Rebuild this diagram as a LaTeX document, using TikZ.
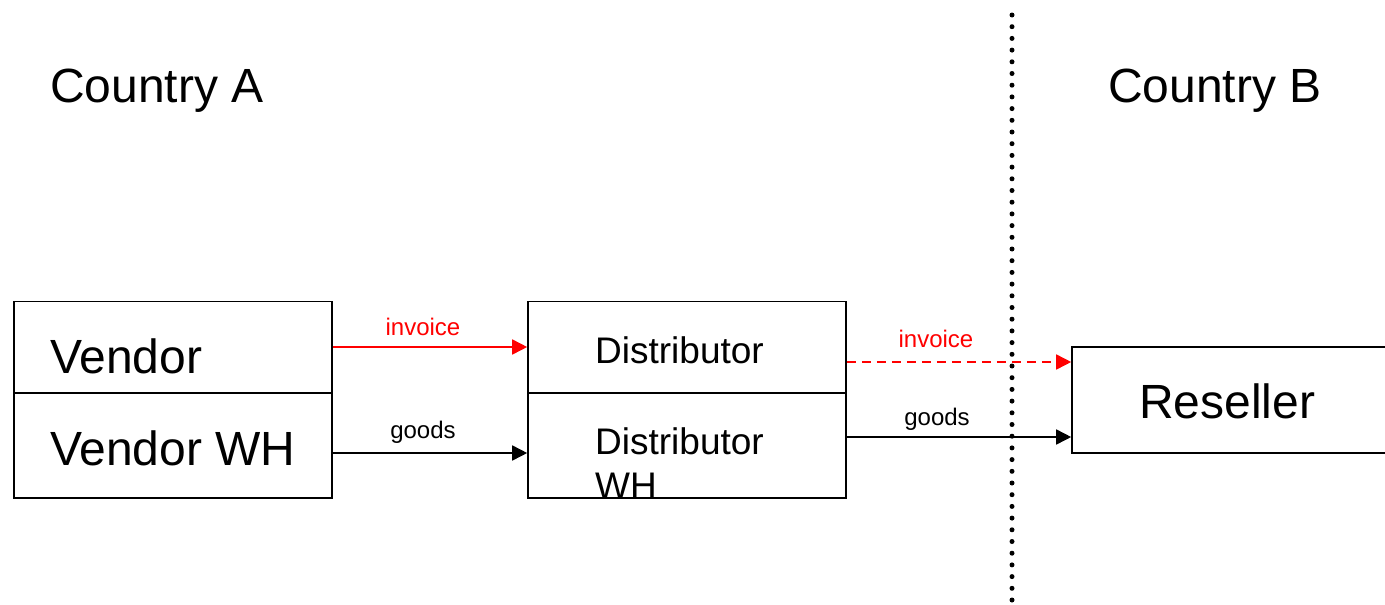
\documentclass[tikz,border=0pt]{standalone}
\usepackage{fontspec}
\setmainfont{Liberation Sans}
\usetikzlibrary{arrows.meta}
\tikzset{>={Triangle[length=15pt,width=15pt]}}
\tikzset{
    box/.style={draw,line width=1.6pt,minimum width=318pt,minimum height=91pt,inner sep=0pt},
    bigtxt/.style={anchor=base west,inner sep=0pt,font=\fontsize{48}{57}\selectfont},
    midtxt/.style={anchor=base west,inner sep=0pt,font=\fontsize{37}{44}\selectfont},
    lbl/.style={anchor=base,inner sep=0pt,font=\fontsize{24}{29}\selectfont},
    flow/.style={->,line width=1.6pt}
}

\begin{document}
\begin{tikzpicture}[x=1pt,y=-1pt]
            \useasboundingbox (0,0) rectangle (1385,605);
            % border between the two countries
            \coordinate (bordtop) at (1012,15);
            \coordinate (bordbot) at (1012,610);
            \draw[line width=5pt,line cap=round,dash pattern=on 0pt off 11.7pt] (bordtop) -- (bordbot);
            \node[bigtxt] (cntA) at (50,102) {Country A};
            \node[bigtxt] (cntB) at (1108,102) {Country B};
            % boxes
            \node[box] (vendor) at (173,347) {};
            \node[box,minimum height=105pt] (vwh) at (173,445.5) {};
            \node[box] (dist) at (687,347) {};
            \node[box,minimum height=105pt] (dwh) at (687,445.5) {};
            \node[box,minimum width=330pt,minimum height=106pt] (res) at (1237,400) {};
            \node[bigtxt] (vendtxt) at (50,373) {Vendor};
            \node[bigtxt] (vwhtxt) at (50,465) {Vendor WH};
            \node[midtxt] (disttxt) at (595,363) {Distributor};
            \node[midtxt] (dwhtxt) at (595,454) {Distributor};
            \node[midtxt] (dwhtxtb) at (595,498) {WH};
            \node[bigtxt] (restxt) at (1139,418) {Reseller};
            % flows
            \draw[flow,red] (vendor.east) -- (dist.west);
            \draw[flow] ([yshift=-7.5pt]vwh.east) coordinate (g1) -- (g1 -| dwh.west);
            \draw[flow,red,dashed,dash pattern=on 9pt off 6pt] ([yshift=-15pt]dist.east) coordinate (i2) -- (i2 -| res.west);
            \draw[flow] ([yshift=8.5pt]dwh.east) coordinate (g2) -- (g2 -| res.west);
            \node[lbl,red] (inv1) at (423,335) {invoice};
            \node[lbl] (goods1) at (423,438) {goods};
            \node[lbl,red] (inv2) at (936,347) {invoice};
            \node[lbl] (goods2) at (937,425) {goods};
        \end{tikzpicture}
\end{document}
